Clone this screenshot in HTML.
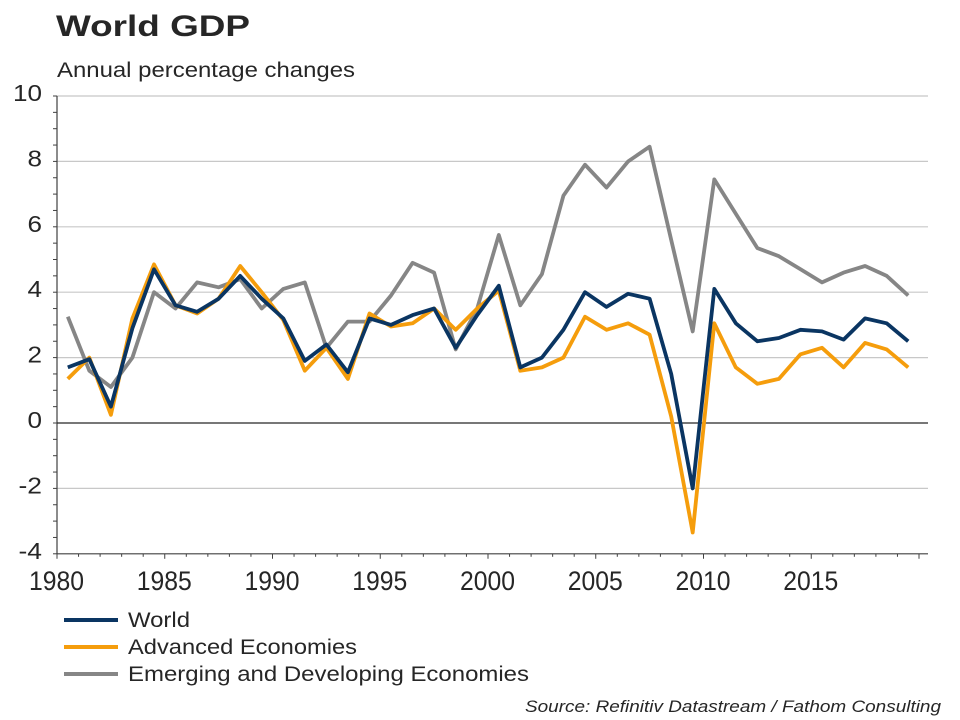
<!DOCTYPE html>
<html><head><meta charset="utf-8"><style>
body{margin:0;background:#fff;}
svg{display:block;font-family:"Liberation Sans",sans-serif;}
</style></head><body>
<svg id="chart" width="960" height="720" viewBox="0 0 960 720" xmlns="http://www.w3.org/2000/svg">
<text x="56" y="36" font-size="30" font-weight="bold" fill="#262626" textLength="194" lengthAdjust="spacingAndGlyphs">World GDP</text>
<text x="57" y="77" font-size="21" fill="#262626" textLength="298" lengthAdjust="spacingAndGlyphs">Annual percentage changes</text>
<g id="grid"></g>
<g id="axes"></g>
<g id="series"></g>
<g>
<line x1="64" y1="620" x2="118" y2="620" stroke="#0a3562" stroke-width="4"/>
<text x="128" y="627" font-size="21" fill="#262626" textLength="62" lengthAdjust="spacingAndGlyphs">World</text>
<line x1="64" y1="647" x2="118" y2="647" stroke="#f59d0c" stroke-width="4"/>
<text x="128" y="654" font-size="21" fill="#262626" textLength="229" lengthAdjust="spacingAndGlyphs">Advanced Economies</text>
<line x1="64" y1="674" x2="118" y2="674" stroke="#868686" stroke-width="4"/>
<text x="128" y="681" font-size="21" fill="#262626" textLength="401" lengthAdjust="spacingAndGlyphs">Emerging and Developing Economies</text>
</g>
<text x="525" y="712" font-size="17" font-style="italic" fill="#262626" textLength="416" lengthAdjust="spacingAndGlyphs">Source: Refinitiv Datastream / Fathom Consulting</text>
</svg>
<script>
const years = [1980,1981,1982,1983,1984,1985,1986,1987,1988,1989,1990,1991,1992,1993,1994,1995,1996,1997,1998,1999,2000,2001,2002,2003,2004,2005,2006,2007,2008,2009,2010,2011,2012,2013,2014,2015,2016,2017,2018,2019];
const world = [1.7,1.95,0.5,2.9,4.7,3.6,3.4,3.8,4.5,3.8,3.2,1.9,2.4,1.55,3.2,3.0,3.3,3.5,2.3,3.3,4.2,1.7,2.0,2.85,4.0,3.55,3.95,3.8,1.5,-2.0,4.1,3.05,2.5,2.6,2.85,2.8,2.55,3.2,3.05,2.5];
const advanced = [1.35,2.0,0.25,3.2,4.85,3.6,3.35,3.8,4.8,4.0,3.15,1.6,2.3,1.35,3.35,2.95,3.05,3.5,2.85,3.5,4.05,1.6,1.7,2.0,3.25,2.85,3.05,2.7,0.2,-3.35,3.05,1.7,1.2,1.35,2.1,2.3,1.7,2.45,2.25,1.7];
const emerging = [3.25,1.6,1.1,2.0,4.0,3.5,4.3,4.15,4.4,3.5,4.1,4.3,2.3,3.1,3.1,3.9,4.9,4.6,2.25,3.5,5.75,3.6,4.55,6.95,7.9,7.2,8.0,8.45,5.6,2.8,7.45,6.4,5.35,5.1,4.7,4.3,4.6,4.8,4.5,3.9];
const yTicks = [-4,-2,0,2,4,6,8,10];
const xTickLabels = [1980,1985,1990,1995,2000,2005,2010,2015];

const NS="http://www.w3.org/2000/svg";
const X0=57, X1=928, PXY=21.55;
function xPos(yr){return X0+(yr-1980)*PXY;}
function xPoint(yr){return X0+(yr-1980+0.5)*PXY;}
function yPos(v){return 423-v*32.7;}
function mk(tag,attrs,parent,txt){const e=document.createElementNS(NS,tag);for(const k in attrs)e.setAttribute(k,attrs[k]);if(txt!==undefined)e.textContent=txt;parent.appendChild(e);return e;}
function labelLen(s){let n=0;for(const c of s)n+=(c==='-'?9:14.5);return n;}
const grid=document.getElementById('grid'), axes=document.getElementById('axes'), series=document.getElementById('series');
yTicks.forEach(t=>{
  if(t!==0&&t!==-4){const l=mk('line',{x1:X0,x2:X1,y1:yPos(t),y2:yPos(t),stroke:'#c8c8c8','stroke-width':1.2},grid);
  
  }
  const s=String(t);
  const tx=mk('text',{x:42,y:yPos(t)+5,'font-size':23,'text-anchor':'end',fill:'#262626',textLength:labelLen(s),lengthAdjust:'spacingAndGlyphs'},axes,s);
  
  
});
for(let v=-4;v<=10;v+=0.5){const l=mk('line',{x1:X0-4,x2:X0,y1:yPos(v),y2:yPos(v),stroke:'#404040','stroke-width':1},axes);
  
  }
const ya=mk('line',{x1:X0,x2:X0,y1:yPos(10),y2:yPos(-4),stroke:'#404040','stroke-width':1.2},axes);


const zl=mk('line',{x1:X0,x2:X1,y1:yPos(0),y2:yPos(0),stroke:'#262626','stroke-width':1.2},axes);


const xa=mk('line',{x1:X0,x2:X1,y1:yPos(-4),y2:yPos(-4),stroke:'#404040','stroke-width':1.2},axes);


for(let yr=1980;yr<=2020;yr++){const l=mk('line',{x1:xPos(yr),x2:xPos(yr),y1:yPos(-4),y2:yPos(-4)+(yr%5===0?5:3),stroke:'#404040','stroke-width':1},axes);
  
  }
xTickLabels.forEach(yr=>{const t=mk('text',{x:xPos(yr)-28,y:590,'font-size':27,fill:'#262626',textLength:55,lengthAdjust:'spacingAndGlyphs'},axes,String(yr));
  
  });
function line(data,color,name){
  const d=data.map((v,i)=>(i?'L':'M')+xPoint(years[i]).toFixed(1)+','+yPos(v).toFixed(1)).join(' ');
  const p=mk('path',{d:d,fill:'none',stroke:color,'stroke-width':3.8,'stroke-linejoin':'round'},series);
  
  
}
line(emerging,'#868686','emerging-line');
line(advanced,'#f59d0c','advanced-line');
line(world,'#0a3562','world-line');
</script>
</body></html>
